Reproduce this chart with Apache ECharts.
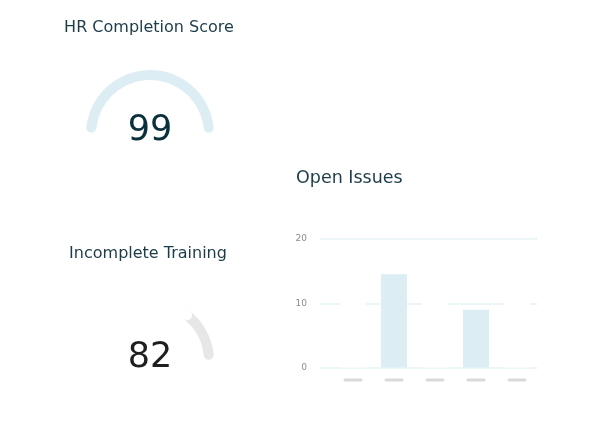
<!DOCTYPE html>
<html>
<head>
<meta charset="utf-8">
<script src="https://cdn.jsdelivr.net/npm/echarts@6/dist/echarts.min.js"></script>
<style>
html,body{margin:0;padding:0;background:#fff;}
#c{width:600px;height:424px;}
</style>
</head>
<body>
<div id="c"></div>
<script>
// ---- data ----
var titles = ['HR Completion Score', 'Open Issues', 'Incomplete Training'];
var hrScore = 99;
var trainingValue = 82;
var issueCategories = ['', '', '', '', ''];
var issueValues = [12, 14.5, 12, 9, 12];
var issueVisible = [false, true, false, true, false];
var yTicks = [0, 10, 20];

var BLUE = '#dcedf3';
var chart = echarts.init(document.getElementById('c'));
var FONT = 'DejaVu Sans';

var barData = issueValues.map(function (v, i) {
  var c = issueVisible[i] ? BLUE : '#ffffff';
  return { value: v, itemStyle: { color: c, borderColor: c, borderWidth: 2 } };
});

chart.setOption({
  animation: false,
  backgroundColor: '#ffffff',
  title: [
    { text: titles[0], left: 149, top: 20, textAlign: 'center', padding: 0,
      textStyle: { fontFamily: FONT, fontSize: 16, fontWeight: 'normal', color: '#1c3c49' } },
    { text: titles[1], left: 296, top: 169.5, padding: 0,
      textStyle: { fontFamily: FONT, fontSize: 17.5, fontWeight: 'normal', color: '#1c3c49' } },
    { text: titles[2], left: 148, top: 245.5, textAlign: 'center', padding: 0,
      textStyle: { fontFamily: FONT, fontSize: 16, fontWeight: 'normal', color: '#1c3c49' } }
  ],
  grid: [
    { left: 320, right: 63, top: 239, bottom: 424 - 367.5, show: false },
    { left: 332.5, right: 62.5, top: 239, bottom: 424 - 367.5, show: false }
  ],
  xAxis: [
    { gridIndex: 0, type: 'value', min: 0, max: 1, show: false },
    { gridIndex: 1, type: 'category', data: issueCategories,
      axisLine: { show: false }, axisTick: { show: false },
      axisLabel: { margin: 11, interval: 0,
        formatter: function () { return '{d| }'; },
        rich: { d: { width: 19, height: 3, backgroundColor: '#dadada', borderRadius: 2, color: 'rgba(0,0,0,0)', fontSize: 2, lineHeight: 3 } } } }
  ],
  yAxis: [
    { gridIndex: 0, type: 'value', min: yTicks[0], max: yTicks[yTicks.length - 1], interval: 10,
      axisLine: { show: false }, axisTick: { show: false },
      axisLabel: { margin: 13, fontSize: 9, color: '#8c8c8c', fontFamily: FONT },
      splitLine: { lineStyle: { color: '#ecf5f7', width: 2 } } },
    { gridIndex: 1, type: 'value', min: yTicks[0], max: yTicks[yTicks.length - 1], show: false,
      splitLine: { show: false } }
  ],
  series: [
    {
      type: 'gauge', center: [150, 134], radius: 64,
      startAngle: 174, endAngle: 6, min: 0, max: 100,
      axisLine: { roundCap: true, lineStyle: { width: 10, color: [[1, BLUE]] } },
      progress: { show: false }, pointer: { show: false },
      axisTick: { show: false }, splitLine: { show: false }, axisLabel: { show: false },
      title: { show: false },
      detail: { offsetCenter: [0, -3], fontSize: 35, fontWeight: 'normal', fontFamily: FONT, color: '#0c2f3c',
        formatter: '{value}' },
      data: [{ value: hrScore }]
    },
    {
      type: 'gauge', center: [150, 361], radius: 64,
      startAngle: 174, endAngle: 6, min: 0, max: 112,
      axisLine: { roundCap: true, lineStyle: { width: 10, color: [[0.715, 'rgba(255,255,255,0)'], [1, '#e7e7e7']] } },
      progress: { show: true, roundCap: true, width: 10, itemStyle: { color: '#ffffff' } },
      pointer: { show: false },
      axisTick: { show: false }, splitLine: { show: false }, axisLabel: { show: false },
      title: { show: false },
      detail: { offsetCenter: [0, -3], fontSize: 35, fontWeight: 'normal', fontFamily: FONT, color: '#1f1f1f',
        formatter: '{value}' },
      data: [{ value: trainingValue }]
    },
    {
      type: 'bar', xAxisIndex: 1, yAxisIndex: 1, barWidth: 26,
      data: barData
    }
  ]
});
</script>
</body>
</html>
